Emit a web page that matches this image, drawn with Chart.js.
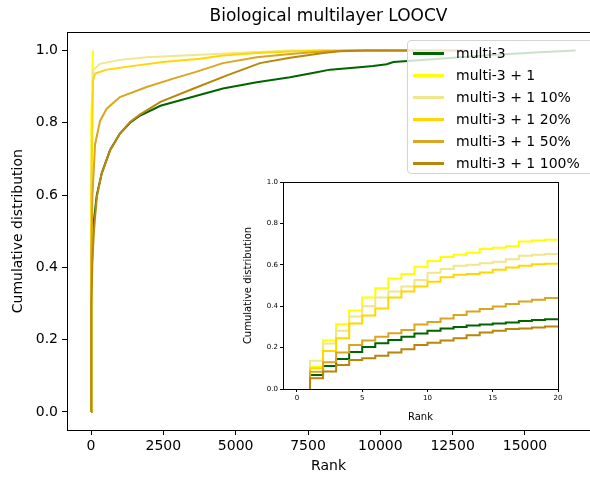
<!DOCTYPE html>
<html>
<head>
<meta charset="utf-8">
<script src="https://cdn.jsdelivr.net/npm/chart.js@4.4.0/dist/chart.umd.min.js"></script>
<style>
  html, body { margin: 0; padding: 0; background: #fff; overflow: hidden; }
  #wrap { position: relative; width: 590px; height: 478px; overflow: hidden; }
  #mainChart { position: absolute; left: 0; top: 0; }
  #insetChart { position: absolute; left: 230px; top: 170px; }
  #legend {
    position: absolute; left: 407px; top: 40px; width: 200px; height: 134px;
    background: rgba(255,255,255,0.8); border: 1px solid #d4d4d4; border-radius: 4px;
    font-family: "DejaVu Sans", sans-serif; font-size: 14px; color: #000;
    padding-top: 1px; box-sizing: border-box;
  }
  .row { height: 22px; display: flex; align-items: center; }
  .sw { width: 31px; height: 3px; margin-left: 5px; margin-right: 12px; }
</style>
</head>
<body>
<div id="wrap">
  <canvas id="mainChart" width="590" height="478"></canvas>
  <canvas id="insetChart" width="345" height="255"></canvas>
  <div id="legend"></div>
</div>
<script>
// series names and colours (legend order)
var labels = ["multi-3", "multi-3 + 1", "multi-3 + 1 10%", "multi-3 + 1 20%", "multi-3 + 1 50%", "multi-3 + 1 100%"];
var colors = ["#006400", "#ffff00", "#f0e68c", "#ffd700", "#daa520", "#b8860b"];

// ranks 1..19 (what the inset shows, each value holds until the next rank)
var topRanks = [1, 2, 3, 4, 5, 6, 7, 8, 9, 10, 11, 12, 13, 14, 15, 16, 17, 18, 19];
var multi3Top = [0.068, 0.111, 0.145, 0.179, 0.203, 0.221, 0.237, 0.253, 0.268, 0.282, 0.292, 0.300, 0.307, 0.312, 0.316, 0.321, 0.328, 0.333, 0.337];
var plus1Top = [0.108, 0.234, 0.313, 0.379, 0.442, 0.487, 0.534, 0.556, 0.590, 0.618, 0.638, 0.648, 0.658, 0.676, 0.682, 0.690, 0.713, 0.717, 0.721];
var plus10Top = [0.137, 0.220, 0.282, 0.350, 0.400, 0.442, 0.471, 0.495, 0.527, 0.562, 0.580, 0.595, 0.600, 0.608, 0.615, 0.627, 0.644, 0.648, 0.652];
var plus20Top = [0.100, 0.184, 0.245, 0.316, 0.355, 0.389, 0.442, 0.471, 0.495, 0.518, 0.540, 0.552, 0.556, 0.563, 0.576, 0.587, 0.595, 0.603, 0.605];
var plus50Top = [0.083, 0.129, 0.176, 0.213, 0.234, 0.253, 0.269, 0.285, 0.311, 0.324, 0.340, 0.358, 0.374, 0.387, 0.398, 0.411, 0.423, 0.431, 0.440];
var plus100Top = [0.052, 0.084, 0.116, 0.140, 0.148, 0.161, 0.176, 0.192, 0.213, 0.224, 0.234, 0.245, 0.260, 0.273, 0.281, 0.290, 0.292, 0.297, 0.302];

// rest of each curve, ranks beyond 20
var multi3TailRanks = [50, 100, 200, 370, 660, 1000, 1350, 1700, 2400, 3400, 4560, 5730, 6880, 7800, 8260, 9180, 9750, 10220, 10450, 11200, 12500, 14000, 15500, 16750];
var multi3TailVals = [0.46, 0.53, 0.60, 0.66, 0.725, 0.77, 0.80, 0.82, 0.847, 0.869, 0.895, 0.912, 0.926, 0.940, 0.947, 0.953, 0.957, 0.962, 0.968, 0.972, 0.980, 0.988, 0.995, 1.0];
var plus1TailRanks = [30, 40, 50, 60, 70];
var plus1TailVals = [0.82, 0.88, 0.93, 0.97, 1.0];
var plus10TailRanks = [40, 69, 311, 1000, 1935, 3767, 5000, 6880, 12900];
var plus10TailVals = [0.85, 0.945, 0.963, 0.974, 0.981, 0.988, 0.993, 1.0, 1.0];
var plus20TailRanks = [40, 69, 140, 540, 1350, 2490, 3767, 4560, 5730, 6880, 8000, 12900];
var plus20TailVals = [0.75, 0.917, 0.936, 0.947, 0.956, 0.968, 0.977, 0.986, 0.993, 0.997, 1.0, 1.0];
var plus50TailRanks = [50, 140, 311, 542, 1000, 1924, 2840, 3600, 4560, 5730, 6880, 8030, 9000, 12900];
var plus50TailVals = [0.60, 0.74, 0.805, 0.839, 0.871, 0.899, 0.922, 0.94, 0.965, 0.981, 0.99, 0.997, 1.0, 1.0];
var plus100TailRanks = [50, 100, 200, 370, 660, 1000, 1350, 1700, 2040, 2400, 3530, 4700, 5840, 6880, 8030, 8600, 9500, 12900];
var plus100TailVals = [0.42, 0.50, 0.595, 0.66, 0.724, 0.77, 0.802, 0.823, 0.84, 0.858, 0.894, 0.931, 0.965, 0.98, 0.993, 0.998, 1.0, 1.0];

var xTicks = [0, 2500, 5000, 7500, 10000, 12500, 15000];
var yTicks = [0, 0.2, 0.4, 0.6, 0.8, 1.0];
var insetXTicks = [0, 5, 10, 15, 20];

var tops = [multi3Top, plus1Top, plus10Top, plus20Top, plus50Top, plus100Top];
var tailRanks = [multi3TailRanks, plus1TailRanks, plus10TailRanks, plus20TailRanks, plus50TailRanks, plus100TailRanks];
var tailVals = [multi3TailVals, plus1TailVals, plus10TailVals, plus20TailVals, plus50TailVals, plus100TailVals];

var FONT = "'DejaVu Sans', sans-serif";

function toPoints(xs, ys) {
  return xs.map(function (x, i) { return { x: x, y: ys[i] }; });
}

// draw the axes box
var frame = {
  id: "frame",
  afterDraw: function (chart) {
    var a = chart.chartArea, ctx = chart.ctx;
    ctx.save();
    ctx.strokeStyle = "#000";
    ctx.lineWidth = 1;
    ctx.strokeRect(Math.round(a.left) + 0.5, Math.round(a.top) + 0.5, Math.round(a.right - a.left), Math.round(a.bottom - a.top));
    ctx.restore();
  }
};

var mainSets = labels.map(function (name, i) {
  // main curve = starts at 0 on rank 1, first 19 ranks, then the tail
  var pts = [{ x: 1, y: 0 }].concat(toPoints(topRanks, tops[i]), toPoints(tailRanks[i], tailVals[i]));
  return {
    label: name, data: pts, borderColor: colors[i], borderWidth: 2,
    pointRadius: 0, tension: 0, fill: false, order: labels.length - i
  };
});

new Chart(document.getElementById("mainChart"), {
  type: "line",
  data: { datasets: mainSets },
  options: {
    responsive: false, animation: false, devicePixelRatio: 1,
    layout: { padding: 0 },
    plugins: {
      legend: { display: false },
      tooltip: { enabled: false },
      title: {
        display: true, text: "Biological multilayer LOOCV", fullSize: false,
        color: "#000", font: { family: FONT, size: 17, weight: "normal" },
        padding: { top: 6, bottom: 6 }
      }
    },
    scales: {
      x: {
        type: "linear", min: -830, max: 17247,
        afterBuildTicks: function (s) { s.ticks = xTicks.map(function (v) { return { value: v }; }); },
        afterFit: function (s) { s.height = 48; },
        ticks: { color: "#000", font: { family: FONT, size: 14 }, padding: 3, maxRotation: 0, autoSkip: false,
          callback: function (v) { return String(v); } },
        grid: { drawOnChartArea: false, tickLength: 5, color: "#000" },
        border: { color: "#000", width: 1 },
        title: { display: true, text: "Rank", color: "#000", font: { family: FONT, size: 14 }, padding: { top: 0, bottom: 3 } }
      },
      y: {
        type: "linear", min: -0.05, max: 1.05,
        afterBuildTicks: function (s) { s.ticks = yTicks.map(function (v) { return { value: v }; }); },
        afterFit: function (s) { s.width = 67; },
        ticks: { color: "#000", font: { family: FONT, size: 14 }, padding: 4,
          callback: function (v) { return v.toFixed(1); } },
        grid: { drawOnChartArea: false, tickLength: 5, color: "#000" },
        border: { color: "#000", width: 1 },
        title: { display: true, text: "Cumulative distribution", color: "#000", font: { family: FONT, size: 14 }, padding: { top: 9.6, bottom: 0 } }
      }
    }
  },
  plugins: [frame]
});

// inset: level for rank k holds on [k, k+1]; 'after' steps go up first, then across
var insetSets = labels.map(function (name, i) {
  var pts = [{ x: 1, y: 0 }].concat(topRanks.map(function (r, j) { return { x: r + 1, y: tops[i][j] }; }));
  return {
    label: name, data: pts, borderColor: colors[i], borderWidth: 2,
    pointRadius: 0, stepped: "after", fill: false, order: labels.length - i
  };
});

new Chart(document.getElementById("insetChart"), {
  type: "line",
  data: { datasets: insetSets },
  options: {
    responsive: false, animation: false, devicePixelRatio: 1,
    layout: { padding: { top: 12, right: 17, left: 0, bottom: 0 } },
    plugins: { legend: { display: false }, tooltip: { enabled: false } },
    scales: {
      x: {
        type: "linear", min: -1.07, max: 20,
        afterBuildTicks: function (s) { s.ticks = insetXTicks.map(function (v) { return { value: v }; }); },
        afterFit: function (s) { s.height = 36; },
        ticks: { color: "#000", font: { family: FONT, size: 7 }, padding: 2, maxRotation: 0, autoSkip: false,
          callback: function (v) { return String(v); } },
        grid: { drawOnChartArea: false, tickLength: 3, color: "#000" },
        border: { color: "#000", width: 1 },
        title: { display: true, text: "Rank", color: "#000", font: { family: FONT, size: 10 }, padding: { top: 0, bottom: 2 } }
      },
      y: {
        type: "linear", min: 0, max: 1,
        afterBuildTicks: function (s) { s.ticks = yTicks.map(function (v) { return { value: v }; }); },
        afterFit: function (s) { s.width = 53; },
        ticks: { color: "#000", font: { family: FONT, size: 7 }, padding: 2,
          callback: function (v) { return v.toFixed(1); } },
        grid: { drawOnChartArea: false, tickLength: 3, color: "#000" },
        border: { color: "#000", width: 1 },
        title: { display: true, text: "Cumulative distribution", color: "#000", font: { family: FONT, size: 10 }, padding: { top: 12, bottom: 0 } }
      }
    }
  },
  plugins: [frame]
});

// legend box built from the same names/colours
var leg = document.getElementById("legend");
labels.forEach(function (name, i) {
  var row = document.createElement("div");
  row.className = "row";
  var sw = document.createElement("span");
  sw.className = "sw";
  sw.style.background = colors[i];
  var tx = document.createElement("span");
  tx.textContent = name;
  row.appendChild(sw);
  row.appendChild(tx);
  leg.appendChild(row);
});
</script>
</body>
</html>
